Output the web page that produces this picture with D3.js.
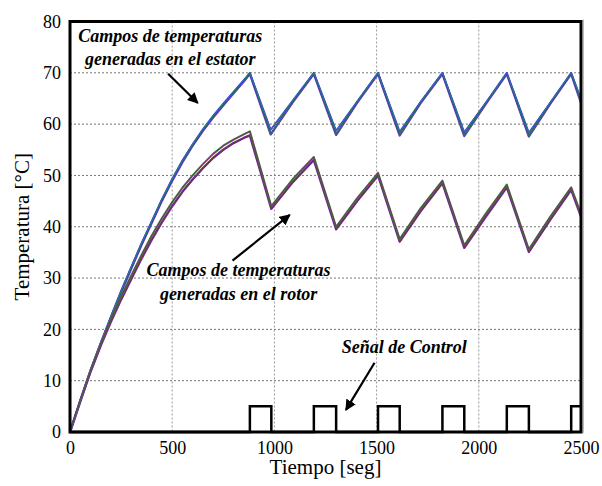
<!DOCTYPE html>
<html>
<head>
<meta charset="utf-8">
<script src="https://cdn.jsdelivr.net/npm/d3@7"></script>
<style>
	body { margin: 0; background: #fff; }
	svg { display: block; }
	.grid line { stroke: #777; stroke-width: 1; stroke-dasharray: 2,2; }
</style>
</head>
<body>
<svg id="graph"></svg>
<script>
var serif = "'Liberation Serif', 'DejaVu Serif', Times, serif";

// tiempo [seg] de cada punto leido
var statorTime = [0, 50, 100, 150, 200, 250, 300, 350, 400, 450, 500, 550, 600, 650, 700, 750, 800, 850, 880,
	982, 1090, 1193, 1302, 1405, 1507, 1613, 1715, 1822, 1929, 2035, 2137, 2245, 2350, 2452, 2500];
// estator: borde superior e inferior del haz de curvas
var statorHigh = [0, 6.2, 12, 17.4, 22.5, 27.5, 32.2, 36.8, 41.1, 45.4, 49.3, 52.9, 56.1, 59, 61.6, 64, 66.3, 68.6, 70,
	58.9, 64.6, 70, 58.7, 64.4, 70, 58.5, 64.3, 70, 58.4, 64.2, 70, 58.3, 64.2, 70, 64.9];
var statorLow = [0, 6, 11.8, 17.1, 22.2, 27.2, 31.9, 36.5, 40.8, 45.1, 49, 52.6, 55.8, 58.7, 61.3, 63.7, 66, 68.3, 69.8,
	58.0, 64.3, 69.8, 57.9, 64.2, 69.8, 57.8, 64.1, 69.8, 57.7, 64, 69.8, 57.6, 64, 69.8, 64.2];

var rotorTime = [0, 50, 100, 150, 200, 250, 300, 350, 400, 450, 500, 550, 600, 650, 700, 750, 800, 850, 880,
	985, 1090, 1193, 1302, 1405, 1507, 1613, 1715, 1822, 1929, 2035, 2137, 2245, 2350, 2452, 2500];
var rotorHigh = [0, 6.1, 12, 17.2, 22, 26.4, 30.5, 34.5, 38.3, 41.7, 44.8, 47.6, 50, 52.2, 54.2, 55.8, 57, 58, 58.6,
	44, 49.3, 53.6, 40, 45.6, 50.5, 37.6, 43.6, 49, 36.4, 42.6, 48.2, 35.6, 42, 47.7, 42.5];
var rotorLow = [0, 5.9, 11.7, 16.8, 21.5, 25.8, 29.8, 33.8, 37.5, 40.9, 44, 46.8, 49.2, 51.4, 53.4, 55, 56.3, 57.3, 57.8,
	43.5, 48.7, 53, 39.5, 45, 50, 37.1, 43, 48.5, 35.9, 42, 47.7, 35.1, 41.4, 47.2, 42];

// señal de control (encendido / apagado)
var pulseStart = [880, 1193, 1507, 1822, 2137, 2452];
var pulseEnd = [985, 1302, 1613, 1929, 2245, 2500];
var controlLevel = 5;

var xTicks = [0, 500, 1000, 1500, 2000, 2500];
var yTicks = [0, 10, 20, 30, 40, 50, 60, 70, 80];

var margin = {top: 21.5, right: 21, bottom: 54, left: 70},
	totalW = 602, totalH = 486,
	width = totalW - margin.left - margin.right,
	height = totalH - margin.top - margin.bottom;

var x = d3.scaleLinear().domain([0, 2500]).range([0, width]);
var y = d3.scaleLinear().domain([0, 80]).range([height, 0]);

var svg = d3.select("#graph")
	.attr("width", totalW)
	.attr("height", totalH)
	.style("font-family", serif);

var defs = svg.append("defs");
defs.append("marker")
	.attr("id", "head")
	.attr("viewBox", "0 0 10 10")
	.attr("refX", 9).attr("refY", 5)
	.attr("markerWidth", 5).attr("markerHeight", 5)
	.attr("orient", "auto")
	.append("path")
	.attr("d", "M0,0 L10,5 L0,10 z")
	.attr("fill", "#000");
defs.append("clipPath").attr("id", "clip")
	.append("rect").attr("width", width).attr("height", height);

var g = svg.append("g")
	.attr("transform", "translate(" + margin.left + "," + margin.top + ")");

// rejilla punteada
g.append("g").attr("class", "grid")
	.selectAll("line").data(xTicks.slice(1, -1)).enter().append("line")
	.attr("x1", function(d) { return x(d); }).attr("x2", function(d) { return x(d); })
	.attr("y1", 0).attr("y2", height)
	.style("stroke", "#999");
g.append("g").attr("class", "grid")
	.selectAll("line").data(yTicks.slice(1, -1)).enter().append("line")
	.attr("y1", function(d) { return y(d); }).attr("y2", function(d) { return y(d); })
	.attr("x1", 0).attr("x2", width);

// ejes
function styleAxis(s) {
	s.select(".domain").remove();
	s.attr("font-family", serif).attr("font-size", 18);
	s.selectAll("text").style("font-family", serif).attr("fill", "#000");
}
var xAxis = d3.axisBottom(x).tickValues(xTicks).tickSize(0).tickPadding(9).tickFormat(d3.format("d"));
g.append("g").attr("transform", "translate(0," + height + ")").call(xAxis).call(styleAxis);
var yAxis = d3.axisLeft(y).tickValues(yTicks).tickSize(0).tickPadding(9).tickFormat(d3.format("d"));
g.append("g").call(yAxis).call(styleAxis);

function makeLine(times) {
	return d3.line()
		.x(function(d, i) { return x(times[i]); })
		.y(function(d) { return y(d); });
}

// cada curva: trazo ancho + trazo fino encima, para el aspecto multicolor
var layers = [
	{data: statorLow, time: statorTime, colors: ["#7a22d6", "#1f7f3a"], widths: [2.4, 1.1]},
	{data: statorHigh, time: statorTime, colors: ["#2a37e6", "#2f8f5a"], widths: [1.8, 0.9]},
	{data: rotorLow, time: rotorTime, colors: ["#7a22d6", "#6b3a2a"], widths: [2.4, 1.2]},
	{data: rotorHigh, time: rotorTime, colors: ["#2f7f3a", "#8a2a6a"], widths: [2.0, 0.9]}
];

var curves = g.append("g").attr("clip-path", "url(#clip)");
layers.forEach(function(l) {
	for (var k = 0; k < l.colors.length; k++) {
		curves.append("path")
			.datum(l.data)
			.attr("fill", "none")
			.attr("stroke", l.colors[k])
			.attr("stroke-width", l.widths[k])
			.attr("stroke-linejoin", "round")
			.attr("d", makeLine(l.time));
	}
});

// señal de control
var ctrl = [[0, 0]];
for (var i = 0; i < pulseStart.length; i++) {
	ctrl.push([pulseStart[i], controlLevel]);
	ctrl.push([pulseEnd[i], 0]);
}
var ctrlLine = d3.line()
	.x(function(d) { return x(d[0]); })
	.y(function(d) { return y(d[1]); })
	.curve(d3.curveStepAfter);
g.append("path")
	.datum(ctrl.slice(0, -1).concat([[2500, controlLevel]]))
	.attr("fill", "none")
	.attr("stroke", "#000")
	.attr("stroke-width", 2.5)
	.attr("d", ctrlLine);

// marco
g.append("rect")
	.attr("x", width + 2).attr("y", -2).attr("width", 1).attr("height", height + 3)
	.attr("fill", "#bbb");
g.append("rect")
	.attr("width", width).attr("height", height)
	.attr("fill", "none").attr("stroke", "#000").attr("stroke-width", 3);

// textos de anotacion
function note(lines, tx, ty, gap) {
	var t = g.append("text")
		.style("font-family", serif)
		.attr("font-size", 18)
		.attr("font-weight", "bold")
		.attr("font-style", "italic")
		.attr("text-anchor", "middle");
	lines.forEach(function(s, j) {
		t.append("tspan").attr("x", x(tx)).attr("y", y(ty) + j * gap).text(s);
	});
}
function arrow(t0, v0, t1, v1) {
	g.append("line")
		.attr("x1", x(t0)).attr("y1", y(v0))
		.attr("x2", x(t1)).attr("y2", y(v1))
		.attr("stroke", "#000").attr("stroke-width", 2.2)
		.attr("marker-end", "url(#head)");
}

note(["Campos de temperaturas", "generadas en el estator"], 490, 76.0, 23);
arrow(480, 69.8, 625, 64.1);
note(["Campos de temperaturas", "generadas en el rotor"], 825, 30.4, 24);
arrow(795, 33.4, 1075, 42.3);
note(["Señal de Control"], 1635, 15.4, 0);
arrow(1490, 13.5, 1350, 4.3);

// titulos de los ejes
g.append("text")
	.style("font-family", serif).attr("font-size", 21)
	.attr("text-anchor", "middle")
	.attr("x", width / 2).attr("y", height + 42)
	.text("Tiempo [seg]");
g.append("text")
	.style("font-family", serif).attr("font-size", 21)
	.attr("text-anchor", "middle")
	.attr("transform", "translate(-41," + (height / 2) + ") rotate(-90)")
	.text("Temperatura [°C]");
</script>
</body>
</html>
